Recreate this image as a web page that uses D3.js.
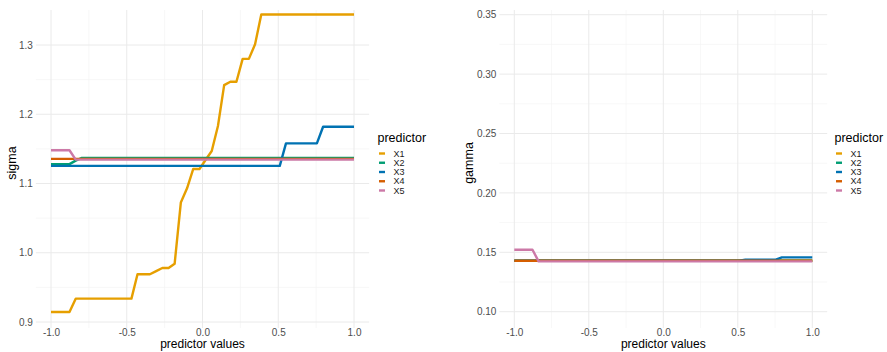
<!DOCTYPE html>
<html><head><meta charset="utf-8">
<script src="https://cdn.jsdelivr.net/npm/d3@7"></script>
<style>
body{margin:0;background:#fff}
svg{display:block}
text{font-family:"Liberation Sans",Arial,Helvetica,sans-serif}
</style>
</head><body><svg id="c" width="887" height="352"></svg>
<script>
const xValues = [-1.000,-0.959,-0.918,-0.878,-0.837,-0.796,-0.755,-0.714,-0.673,-0.633,-0.592,-0.551,-0.510,-0.469,-0.429,-0.388,-0.347,-0.306,-0.265,-0.224,-0.184,-0.143,-0.102,-0.061,-0.020,0.020,0.061,0.102,0.143,0.184,0.224,0.265,0.306,0.347,0.388,0.429,0.469,0.510,0.551,0.592,0.633,0.673,0.714,0.755,0.796,0.837,0.878,0.918,0.959,1.000];
const predictors = ["X1","X2","X3","X4","X5"];
const colors = ["#E69F00","#009E73","#0072B2","#D55E00","#CC79A7"];

const sigmaX1 = [0.9145,0.9145,0.9145,0.9145,0.9337,0.9337,0.9337,0.9337,0.9337,0.9337,0.9337,0.9337,0.9337,0.9337,0.969,0.969,0.969,0.9735,0.978,0.978,0.984,1.0725,1.093,1.121,1.121,1.134,1.147,1.183,1.242,1.247,1.247,1.280,1.280,1.301,1.344,1.344,1.344,1.344,1.344,1.344,1.344,1.344,1.344,1.344,1.344,1.344,1.344,1.344,1.344,1.344];
const sigmaX2 = [1.128,1.128,1.128,1.128,1.133,1.137,1.137,1.137,1.137,1.137,1.137,1.137,1.137,1.137,1.137,1.137,1.137,1.137,1.137,1.137,1.137,1.137,1.137,1.137,1.137,1.137,1.137,1.137,1.137,1.137,1.137,1.137,1.137,1.137,1.137,1.137,1.137,1.137,1.137,1.137,1.137,1.137,1.137,1.137,1.137,1.137,1.137,1.137,1.137,1.137];
const sigmaX3 = [1.1255,1.1255,1.1255,1.1255,1.1255,1.1255,1.1255,1.1255,1.1255,1.1255,1.1255,1.1255,1.1255,1.1255,1.1255,1.1255,1.1255,1.1255,1.1255,1.1255,1.1255,1.1255,1.1255,1.1255,1.1255,1.1255,1.1255,1.1255,1.1255,1.1255,1.1255,1.1255,1.1255,1.1255,1.1255,1.1255,1.1255,1.1255,1.158,1.158,1.158,1.158,1.158,1.158,1.182,1.182,1.182,1.182,1.182,1.182];
const sigmaX4 = [1.1355,1.1355,1.1355,1.1355,1.1355,1.1355,1.1355,1.1355,1.1355,1.1355,1.1355,1.1355,1.1355,1.1355,1.1355,1.1355,1.1355,1.1355,1.1355,1.1355,1.1355,1.1355,1.1355,1.1355,1.1355,1.1355,1.1355,1.1355,1.1355,1.1355,1.1355,1.1355,1.1355,1.1355,1.1355,1.1355,1.1355,1.1355,1.1355,1.1355,1.1355,1.1355,1.1355,1.1355,1.1355,1.1355,1.1355,1.1355,1.1355,1.1355];
const sigmaX5 = [1.148,1.148,1.148,1.148,1.1345,1.1345,1.1345,1.1345,1.1345,1.1345,1.1345,1.1345,1.1345,1.1345,1.1345,1.1345,1.1345,1.1345,1.1345,1.1345,1.1345,1.1345,1.1345,1.1345,1.1345,1.1345,1.1345,1.1345,1.1345,1.1345,1.1345,1.1345,1.1345,1.1345,1.1345,1.1345,1.1345,1.1345,1.1345,1.1345,1.1345,1.1345,1.1345,1.1345,1.1345,1.1345,1.1345,1.1345,1.1345,1.1345];

const gammaX1 = [0.1430,0.1430,0.1430,0.1430,0.1430,0.1430,0.1430,0.1430,0.1430,0.1430,0.1430,0.1430,0.1430,0.1430,0.1430,0.1430,0.1430,0.1430,0.1430,0.1430,0.1430,0.1430,0.1430,0.1430,0.1430,0.1430,0.1430,0.1430,0.1430,0.1430,0.1430,0.1430,0.1430,0.1430,0.1430,0.1430,0.1430,0.1430,0.1430,0.1430,0.1430,0.1430,0.1430,0.1430,0.1430,0.1430,0.1430,0.1430,0.1430,0.1430];
const gammaX2 = [0.1430,0.1430,0.1430,0.1430,0.1430,0.1430,0.1430,0.1430,0.1430,0.1430,0.1430,0.1430,0.1430,0.1430,0.1430,0.1430,0.1430,0.1430,0.1430,0.1430,0.1430,0.1430,0.1430,0.1430,0.1430,0.1430,0.1430,0.1430,0.1430,0.1430,0.1430,0.1430,0.1430,0.1430,0.1430,0.1430,0.1430,0.1430,0.1430,0.1430,0.1430,0.1430,0.1430,0.1430,0.1430,0.1430,0.1430,0.1430,0.1430,0.1430];
const gammaX3 = [0.1430,0.1430,0.1430,0.1430,0.1430,0.1430,0.1430,0.1430,0.1430,0.1430,0.1430,0.1430,0.1430,0.1430,0.1430,0.1430,0.1430,0.1430,0.1430,0.1430,0.1430,0.1430,0.1430,0.1430,0.1430,0.1430,0.1430,0.1430,0.1430,0.1430,0.1430,0.1430,0.1430,0.1430,0.1430,0.1430,0.1430,0.1430,0.1438,0.1438,0.1438,0.1438,0.1438,0.1438,0.1457,0.1457,0.1457,0.1457,0.1457,0.1457];
const gammaX4 = [0.1429,0.1429,0.1429,0.1429,0.1429,0.1429,0.1429,0.1429,0.1429,0.1429,0.1429,0.1429,0.1429,0.1429,0.1429,0.1429,0.1429,0.1429,0.1429,0.1429,0.1429,0.1429,0.1429,0.1429,0.1429,0.1429,0.1429,0.1429,0.1429,0.1429,0.1429,0.1429,0.1429,0.1429,0.1429,0.1429,0.1429,0.1429,0.1429,0.1429,0.1429,0.1429,0.1429,0.1429,0.1429,0.1429,0.1429,0.1429,0.1429,0.1429];
const gammaX5 = [0.1522,0.1522,0.1522,0.1522,0.1424,0.1424,0.1424,0.1424,0.1424,0.1424,0.1424,0.1424,0.1424,0.1424,0.1424,0.1424,0.1424,0.1424,0.1424,0.1424,0.1424,0.1424,0.1424,0.1424,0.1424,0.1424,0.1424,0.1424,0.1424,0.1424,0.1424,0.1424,0.1424,0.1424,0.1424,0.1424,0.1424,0.1424,0.1424,0.1424,0.1424,0.1424,0.1424,0.1424,0.1424,0.1424,0.1424,0.1424,0.1424,0.1424];

const xTicks = [-1.0,-0.5,0.0,0.5,1.0];
const xMinor = [-0.75,-0.25,0.25,0.75];
const sigmaTicks = [0.9,1.0,1.1,1.2,1.3];
const sigmaMinor = [0.95,1.05,1.15,1.25];
const gammaTicks = [0.10,0.15,0.20,0.25,0.30,0.35];
const gammaMinor = [0.125,0.175,0.225,0.275,0.325];

const svg = d3.select("#c");

function panel(cfg){
  const x = d3.scaleLinear().domain([-1.1,1.1]).range(cfg.xr);
  const y = d3.scaleLinear().domain(cfg.yd).range(cfg.yr);
  const g = svg.append("g");
  const top = 10, bottom = 328;
  g.selectAll(".mx").data(xMinor).join("line")
    .attr("x1",d=>x(d)).attr("x2",d=>x(d)).attr("y1",top).attr("y2",bottom)
    .attr("stroke","#F1F1F1").attr("stroke-width",0.6);
  g.selectAll(".my").data(cfg.minor).join("line")
    .attr("x1",cfg.xr[0]).attr("x2",cfg.xr[1]).attr("y1",d=>y(d)).attr("y2",d=>y(d))
    .attr("stroke","#F1F1F1").attr("stroke-width",0.6);
  g.selectAll(".gx").data(xTicks).join("line")
    .attr("x1",d=>x(d)).attr("x2",d=>x(d)).attr("y1",top).attr("y2",bottom)
    .attr("stroke","#EAEAEA").attr("stroke-width",1);
  g.selectAll(".gy").data(cfg.ticks).join("line")
    .attr("x1",cfg.xr[0]).attr("x2",cfg.xr[1]).attr("y1",d=>y(d)).attr("y2",d=>y(d))
    .attr("stroke","#EAEAEA").attr("stroke-width",1);
  const ax = g.append("g").attr("transform",`translate(0,${bottom})`)
    .call(d3.axisBottom(x).tickValues(xTicks).tickSize(0).tickPadding(1).tickFormat(d=>d.toFixed(1)));
  const ay = g.append("g").attr("transform",`translate(${cfg.xr[0]},0)`)
    .call(d3.axisLeft(y).tickValues(cfg.ticks).tickSize(0).tickPadding(3).tickFormat(d=>d.toFixed(cfg.dec)));
  [ax,ay].forEach(a=>{
    a.select(".domain").remove();
    a.selectAll("text").attr("fill","#4D4D4D").style("font-size","10px")
      .style("font-family",'"Liberation Sans",Arial,sans-serif');
  });
  const line = d3.line().x((d,i)=>x(xValues[i])).y(d=>y(d));
  cfg.series.forEach((s,i)=>{
    g.append("path").datum(s).attr("d",line).attr("fill","none")
      .attr("stroke",colors[i]).attr("stroke-width",2.4)
      .attr("stroke-linejoin","round").attr("stroke-linecap","butt");
  });
  const cx = (cfg.xr[0]+cfg.xr[1])/2;
  g.append("text").attr("x",cx).attr("y",347.5).attr("text-anchor","middle")
    .style("font-size","12px").attr("fill","#000").text("predictor values");
  g.append("text").attr("transform",`translate(${cfg.ytx},163) rotate(-90)`)
    .attr("text-anchor","middle").style("font-size","12.5px").attr("fill","#000").text(cfg.ylabel);
  const L = g.append("g");
  L.append("text").attr("x",cfg.lx).attr("y",141.7).style("font-size","12.5px").attr("fill","#000").text("predictor");
  predictors.forEach((p,i)=>{
    const yy = 153.5 + i*9.25;
    L.append("line").attr("x1",cfg.lx+1.5).attr("x2",cfg.lx+7.5).attr("y1",yy).attr("y2",yy)
      .attr("stroke",colors[i]).attr("stroke-width",2.4);
    L.append("text").attr("x",cfg.lx+16).attr("y",yy).attr("dy","0.35em")
      .style("font-size","9px").attr("fill","#1A1A1A").text(p);
  });
}

panel({xr:[35.85,369.15], yd:[0.9,1.3], yr:[322,45], ticks:sigmaTicks, minor:sigmaMinor, dec:1,
  series:[sigmaX1,sigmaX2,sigmaX3,sigmaX4,sigmaX5], ylabel:"sigma", ytx:15.5, lx:377.5});
panel({xr:[499.4,827.2], yd:[0.10,0.35], yr:[311.7,14.7], ticks:gammaTicks, minor:gammaMinor, dec:2,
  series:[gammaX1,gammaX2,gammaX3,gammaX4,gammaX5], ylabel:"gamma", ytx:473, lx:834.5});
</script>
</body></html>
